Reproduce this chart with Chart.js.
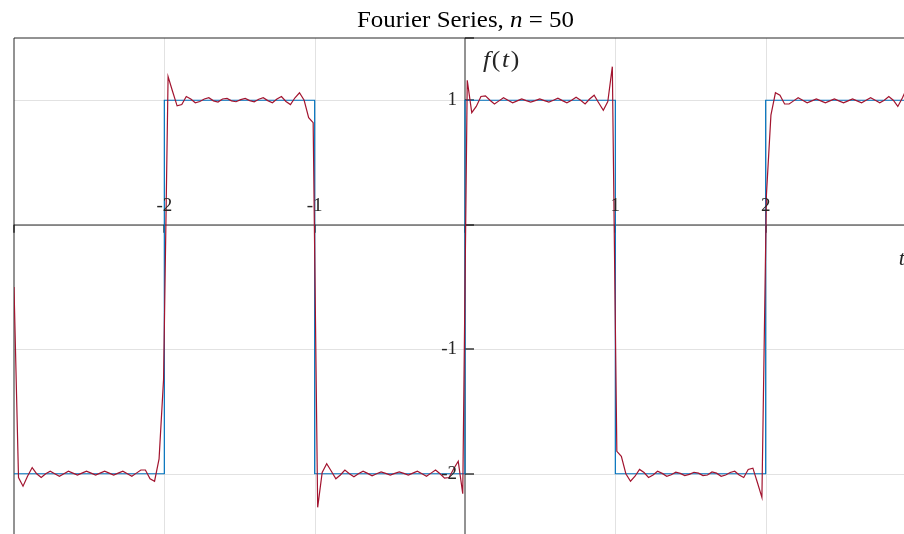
<!DOCTYPE html>
<html><head><meta charset="utf-8">
<script src="https://cdn.jsdelivr.net/npm/chart.js@4.4.1/dist/chart.umd.min.js"></script>
<style>
html,body{margin:0;padding:0;overflow:hidden;background:#fff;width:904px;height:534px}
#wrap{position:absolute;left:0;top:0;width:930px;height:545px}
</style>
</head><body>
<div id="wrap"><canvas id="c" width="930" height="545"></canvas></div>
<script>
// ---- data ----
const squareT = [-3, -2, -2, -1, -1, 0, 0, 1, 1, 2, 2, 3];
const squareY = [-2, -2, 1, 1, -2, -2, 1, 1, -2, -2, 1, 1];

const redT = [
 -3.000,-2.970,-2.940,-2.910,-2.879,-2.849,-2.819,-2.789,-2.759,-2.729,
 -2.698,-2.668,-2.638,-2.608,-2.578,-2.548,-2.518,-2.487,-2.457,-2.427,
 -2.397,-2.367,-2.337,-2.307,-2.276,-2.246,-2.216,-2.186,-2.156,-2.126,
 -2.095,-2.065,-2.035,-2.005,-1.975,-1.945,-1.915,-1.884,-1.854,-1.824,
 -1.794,-1.764,-1.734,-1.704,-1.673,-1.643,-1.613,-1.583,-1.553,-1.523,
 -1.492,-1.462,-1.432,-1.402,-1.372,-1.342,-1.312,-1.281,-1.251,-1.221,
 -1.191,-1.161,-1.131,-1.101,-1.070,-1.040,-1.010,-0.980,-0.950,-0.920,
 -0.889,-0.859,-0.829,-0.799,-0.769,-0.739,-0.709,-0.678,-0.648,-0.618,
 -0.588,-0.558,-0.528,-0.497,-0.467,-0.437,-0.407,-0.377,-0.347,-0.317,
 -0.286,-0.256,-0.226,-0.196,-0.166,-0.136,-0.106,-0.075,-0.045,-0.015,
  0.015, 0.045, 0.075, 0.106, 0.136, 0.166, 0.196, 0.226, 0.256, 0.286,
  0.317, 0.347, 0.377, 0.407, 0.437, 0.467, 0.497, 0.528, 0.558, 0.588,
  0.618, 0.648, 0.678, 0.709, 0.739, 0.769, 0.799, 0.829, 0.859, 0.889,
  0.920, 0.950, 0.980, 1.010, 1.040, 1.070, 1.101, 1.131, 1.161, 1.191,
  1.221, 1.251, 1.281, 1.312, 1.342, 1.372, 1.402, 1.432, 1.462, 1.492,
  1.523, 1.553, 1.583, 1.613, 1.643, 1.673, 1.704, 1.734, 1.764, 1.794,
  1.824, 1.854, 1.884, 1.915, 1.945, 1.975, 2.005, 2.035, 2.065, 2.095,
  2.126, 2.156, 2.186, 2.216, 2.246, 2.276, 2.307, 2.337, 2.367, 2.397,
  2.427, 2.457, 2.487, 2.518, 2.548, 2.578, 2.608, 2.638, 2.668, 2.698,
  2.729, 2.759, 2.789, 2.819, 2.849, 2.879, 2.910, 2.940, 2.970, 3.000
];

const redY = [
 -0.50,-2.03,-2.10,-2.02,-1.95,-2.00,-2.03,-2.00,-1.98,-2.00,
 -2.02,-2.00,-1.98,-1.995,-2.01,-1.995,-1.98,-1.995,-2.01,-1.995,
 -1.98,-1.995,-2.01,-1.995,-1.98,-2.00,-2.02,-1.995,-1.97,-1.97,
 -2.04,-2.06,-1.88,-1.24, 1.19, 1.07, 0.955, 0.965, 1.03, 1.01,
  0.98, 0.99, 1.01, 1.02, 0.995, 0.985, 1.01, 1.015, 0.995, 0.988,
  1.005, 1.015, 0.997, 0.988, 1.008, 1.02, 0.997, 0.98, 1.01, 1.03,
  0.99, 0.965, 1.02, 1.06, 1.00, 0.86, 0.82,-2.27,-1.99,-1.92,
 -1.98,-2.04,-2.01,-1.97,-2.00,-2.025,-2.00,-1.98,-1.997,-2.017,
 -2.00,-1.985,-1.997,-2.01,-1.997,-1.985,-1.997,-2.01,-1.995,-1.98,
 -2.00,-2.02,-1.995,-1.97,-2.00,-2.035,-2.03,-1.96,-1.90,-2.16,
  1.16, 0.90, 0.95, 1.03, 1.035, 1.00, 0.97, 0.995, 1.02, 1.00,
  0.98, 0.995, 1.01, 0.997, 0.985, 0.997, 1.01, 0.997, 0.985, 1.00,
  1.017, 0.997, 0.98, 1.00, 1.025, 1.00, 0.97, 1.01, 1.04, 0.98,
  0.92, 0.99, 1.27,-1.82,-1.86,-2.00,-2.06,-2.02,-1.965,-1.99,
 -2.03,-2.01,-1.98,-1.997,-2.02,-2.008,-1.988,-1.997,-2.015,-2.005,
 -1.988,-1.995,-2.015,-2.01,-1.985,-1.995,-2.02,-2.01,-1.99,-1.98,
 -2.01,-2.03,-1.965,-1.955,-2.07,-2.19, 0.24, 0.88, 1.06, 1.04,
  0.97, 0.97, 0.995, 1.02, 1.00, 0.98, 0.995, 1.01, 0.995, 0.98,
  0.995, 1.01, 0.995, 0.98, 0.995, 1.01, 0.995, 0.98, 1.00, 1.02,
  1.00, 0.98, 1.00, 1.03, 1.00, 0.95, 1.02, 1.10, 1.03,-0.50
];

const gridXVals = [-2, -1, 1, 2];
const gridYVals = [1, 0, -1, -2];
const xTickVals = [-3, -2, -1, 0, 1, 2, 3];
const xTickLabels = ['-2', '-1', '1', '2'];
const xLabelVals = [-2, -1, 1, 2];
const yTickVals = [1.5, 1, 0, -1, -2];
const yLabelVals = [1, -1, -2];
const yTickLabels = ['1', '-1', '-2'];

const BLUE = '#0072BD';
const RED = '#A2142F';
const AX = '#262626';
const SERIF = '"Liberation Serif", "Times New Roman", serif';

const squarePts = squareT.map((t, i) => ({x: t, y: squareY[i]}));
const redPts = redT.map((t, i) => ({x: t, y: redY[i]}));

function drawMixed(ctx, segs, size, left, baseline, targetW, gap) {
  let total = 0;
  segs.forEach(s => { ctx.font = s[1] + ' ' + size + 'px ' + SERIF; total += ctx.measureText(s[0]).width + (gap || 0); });
  const sx = targetW / total;
  ctx.save();
  ctx.translate(left, baseline);
  ctx.scale(sx, 1);
  let cx = 0;
  segs.forEach(s => { ctx.font = s[1] + ' ' + size + 'px ' + SERIF; ctx.fillText(s[0], cx, 0); cx += ctx.measureText(s[0]).width + (gap || 0); });
  ctx.restore();
}

const deco = {
  id: 'deco',
  beforeDatasetsDraw(chart) {
    const {ctx, chartArea: a, scales: {x, y}} = chart;
    ctx.save();
    ctx.strokeStyle = '#e2e2e2';
    ctx.lineWidth = 1;
    gridXVals.forEach(v => {
      const px = Math.round(x.getPixelForValue(v)) + 0.5;
      ctx.beginPath(); ctx.moveTo(px, a.top); ctx.lineTo(px, a.bottom); ctx.stroke();
    });
    gridYVals.forEach(v => {
      const py = Math.round(y.getPixelForValue(v)) + 0.5;
      ctx.beginPath(); ctx.moveTo(a.left, py); ctx.lineTo(a.right, py); ctx.stroke();
    });
    ctx.strokeStyle = AX;
    ctx.lineWidth = 1;
    ctx.beginPath();
    ctx.moveTo(a.left, a.bottom); ctx.lineTo(a.left, a.top); ctx.lineTo(a.right, a.top);
    ctx.stroke();
    const x0 = x.getPixelForValue(0), y0 = y.getPixelForValue(0);
    ctx.beginPath();
    ctx.moveTo(a.left, Math.round(y0)); ctx.lineTo(a.right, Math.round(y0));
    ctx.moveTo(Math.round(x0), a.top); ctx.lineTo(Math.round(x0), a.bottom);
    ctx.stroke();
    ctx.lineWidth = 1.3;
    ctx.strokeStyle = '#1a1a1a';
    xTickVals.forEach(v => {
      const px = Math.round(x.getPixelForValue(v));
      ctx.beginPath(); ctx.moveTo(px, y0); ctx.lineTo(px, y0 + 8); ctx.stroke();
    });
    yTickVals.forEach(v => {
      const py = Math.round(y.getPixelForValue(v));
      ctx.beginPath(); ctx.moveTo(x0, py); ctx.lineTo(x0 + 9, py); ctx.stroke();
    });
    ctx.restore();
  },
  afterDatasetsDraw(chart) {
    const {ctx, chartArea: a, scales: {x, y}} = chart;
    const x0 = x.getPixelForValue(0), y0 = y.getPixelForValue(0);
    ctx.save();
    ctx.fillStyle = AX;
    ctx.font = '19px ' + SERIF;
    ctx.textAlign = 'center';
    ctx.textBaseline = 'alphabetic';
    xLabelVals.forEach((v, i) => {
      ctx.fillText(xTickLabels[i], x.getPixelForValue(v), y0 - 14);
    });
    ctx.textAlign = 'right';
    ctx.textBaseline = 'middle';
    yLabelVals.forEach((v, i) => {
      ctx.fillText(yTickLabels[i], x0 - 8, y.getPixelForValue(v));
    });
    ctx.textAlign = 'left';
    ctx.textBaseline = 'alphabetic';
    ctx.fillStyle = '#000';
    // title
    drawMixed(ctx, [['Fourier Series, ', 'normal'], ['n', 'italic'], [' = 50', 'normal']], 23, 357, 27, 217, 0);
    // f(t)
    ctx.fillStyle = AX;
    drawMixed(ctx, [['f', 'italic'], ['(', 'normal'], ['t', 'italic'], [')', 'normal']], 23, x0 + 18, 67, 38, 1.5);
    // t
    ctx.font = 'italic 22px ' + SERIF;
    ctx.fillText('t', x.getPixelForValue(2.885), y0 + 40);
    ctx.restore();
  }
};

new Chart(document.getElementById('c'), {
  type: 'line',
  data: {
    datasets: [
      {label: 'Fourier', data: redPts, borderColor: RED, borderWidth: 1.2, pointRadius: 0, tension: 0, fill: false},
      {label: 'Square', data: squarePts, borderColor: BLUE, borderWidth: 1.2, pointRadius: 0, tension: 0, fill: false}
    ]
  },
  options: {
    responsive: false,
    animation: false,
    devicePixelRatio: 1,
    layout: {padding: {left: 14, top: 38, right: 14, bottom: 9}},
    scales: {
      x: {type: 'linear', min: -3, max: 3, display: false},
      y: {type: 'linear', min: -2.5, max: 1.5, display: false}
    },
    plugins: {legend: {display: false}, tooltip: {enabled: false}, title: {display: false}}
  },
  plugins: [deco]
});
</script>
</body></html>
